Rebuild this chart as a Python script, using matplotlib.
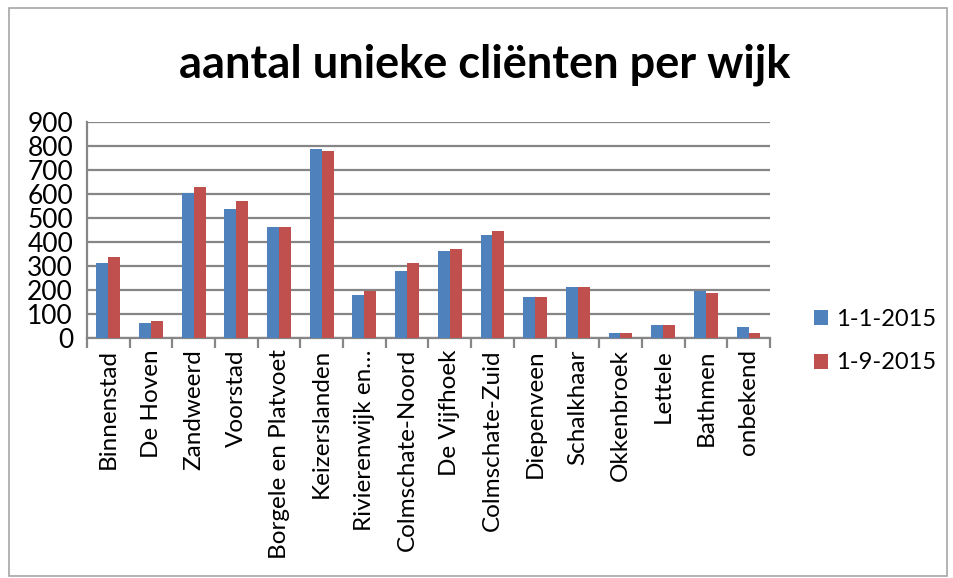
import matplotlib.pyplot as plt
import numpy as np
from matplotlib.patches import Rectangle

wijken = ['Binnenstad', 'De Hoven', 'Zandweerd', 'Voorstad', 'Borgele en Platvoet',
          'Keizerslanden', 'Rivierenwijk en…', 'Colmschate-Noord', 'De Vijfhoek',
          'Colmschate-Zuid', 'Diepenveen', 'Schalkhaar', 'Okkenbroek', 'Lettele',
          'Bathmen', 'onbekend']
jan_2015 = [313, 64, 605, 538, 462, 788, 181, 280, 364, 430, 171, 213, 22, 56, 196, 47]
sep_2015 = [338, 72, 630, 571, 462, 780, 196, 313, 372, 446, 171, 213, 22, 56, 188, 22]

plt.rcParams['font.family'] = ['Lato', 'DejaVu Sans']

fig = plt.figure(figsize=(9.54, 5.78), dpi=100)
ax = fig.add_axes([0.0912, 0.4152, 0.7158, 0.3738])

x = np.arange(len(wijken))
w = 0.28
ax.bar(x - w / 2, jan_2015, w, color='#4F81BD', label='1-1-2015', zorder=3)
ax.bar(x + w / 2, sep_2015, w, color='#C0504D', label='1-9-2015', zorder=3)

ax.set_xlim(-0.5, len(wijken) - 0.5)
ax.set_ylim(0, 900)
ax.set_yticks(range(0, 901, 100))
ax.tick_params(axis='y', labelsize=19, length=0, pad=10)
ax.yaxis.grid(True, color='#868686', linewidth=1.6, zorder=0)

# category labels centred, tick marks between categories
ax.set_xticks(x)
ax.set_xticklabels(wijken, rotation=90, fontsize=17.5)
ax.tick_params(axis='x', length=0, pad=8)
ax.set_xticks(np.arange(-0.5, len(wijken), 1), minor=True)
ax.tick_params(axis='x', which='minor', length=7, color='#868686', width=1.6)

for side in ['top', 'right']:
    ax.spines[side].set_visible(False)
ax.spines['left'].set_color('#868686')
ax.spines['bottom'].set_color('#868686')
ax.spines['left'].set_linewidth(1.6)
ax.spines['bottom'].set_linewidth(1.6)

fig.text(0.508, 0.888, 'aantal unieke cliënten per wijk', ha='center', va='center',
         fontsize=32.5, fontweight='bold')

ax.legend(loc='center left', bbox_to_anchor=(1.03, -0.015), frameon=False, fontsize=17,
          handlelength=0.6, handleheight=0.6, handletextpad=0.35, labelspacing=0.95,
          borderaxespad=0.6)

fig.patches.append(Rectangle((0.009, 0.003), 0.984, 0.983, transform=fig.transFigure,
                             fill=False, edgecolor='#a6a6a6', linewidth=1.2))

fig.savefig('out.png', dpi=100)
